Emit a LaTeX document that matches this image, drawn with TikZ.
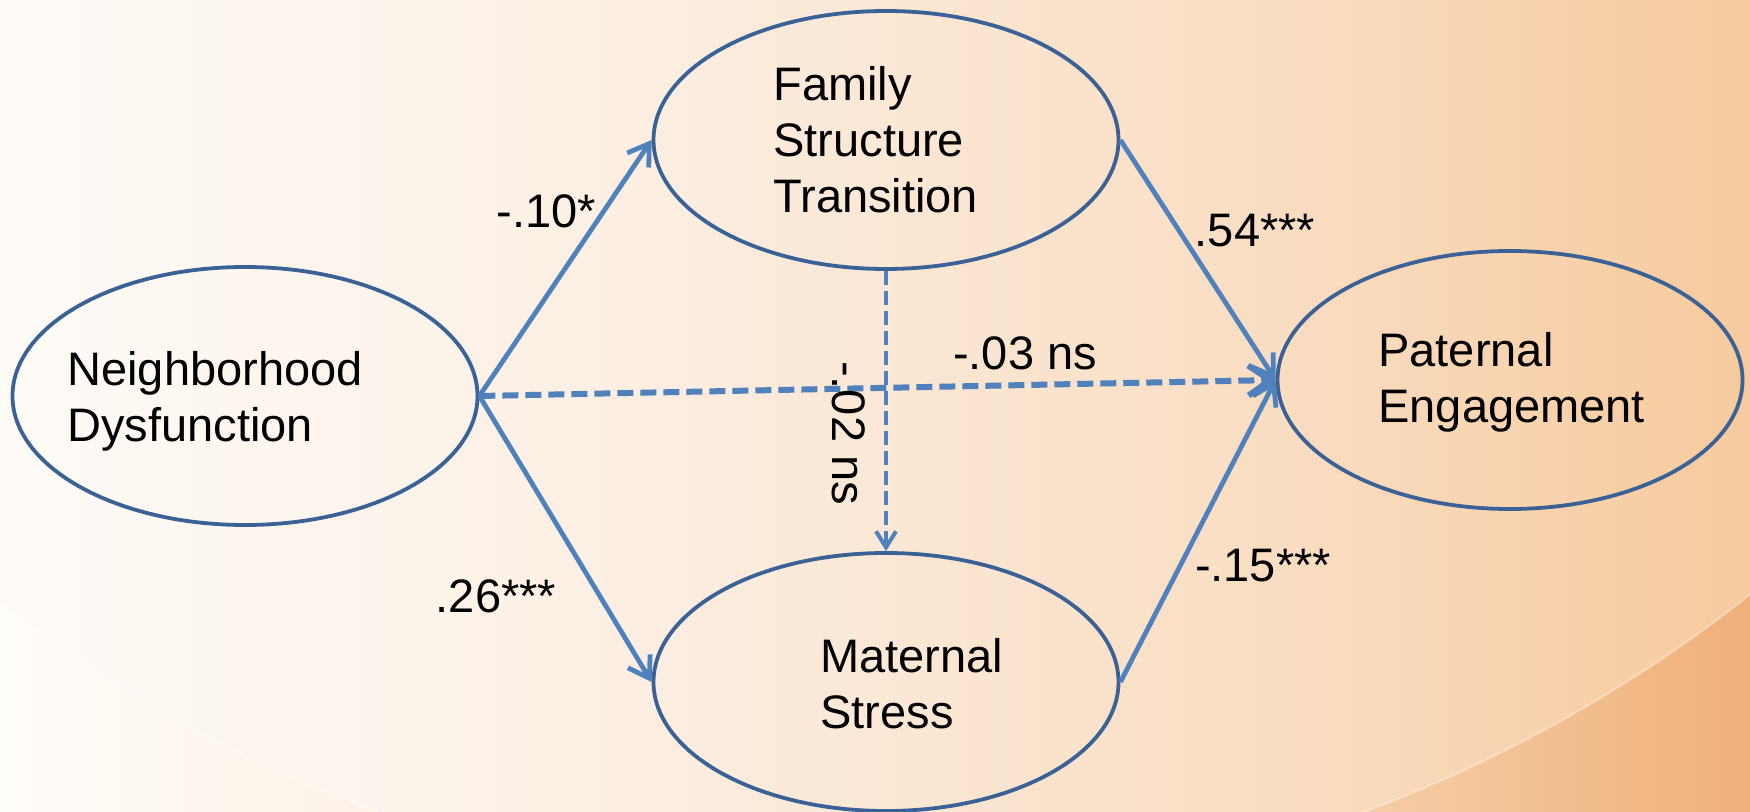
\documentclass[tikz,border=0pt]{standalone}
\usepackage{fontspec}
\setmainfont{Liberation Sans}
\usetikzlibrary{arrows.meta,shapes.geometric}
\definecolor{edgeblue}{HTML}{3B6296}
\definecolor{arrowblue}{HTML}{4F81BD}
\definecolor{ciA}{HTML}{FEFBF7}
\definecolor{ciB}{HTML}{FCF3EA}
\definecolor{ciC}{HTML}{FBE8D6}
\definecolor{ciD}{HTML}{F9DCC0}
\definecolor{ciE}{HTML}{F6CA9D}
\definecolor{coA}{HTML}{FFFDFA}
\definecolor{coB}{HTML}{F7D8B8}
\definecolor{coC}{HTML}{EFB079}
\pgfdeclarehorizontalshading{bgin}{100bp}{color(0bp)=(ciA); color(25bp)=(ciA); color(37.5bp)=(ciB); color(50bp)=(ciC); color(62.5bp)=(ciD); color(75bp)=(ciE); color(100bp)=(ciE)}
\pgfdeclarehorizontalshading{bgout}{100bp}{color(0bp)=(coA); color(25bp)=(coA); color(60bp)=(coB); color(75bp)=(coC); color(100bp)=(coC)}
\tikzset{
  ell/.style={ellipse, draw=edgeblue, line width=1.9pt, minimum width=232.5pt, minimum height=129pt, inner sep=0pt},
  txt/.style={font=\fontsize{23.5}{28}\selectfont, align=left, inner sep=0pt, anchor=west},
  lbl/.style={font=\fontsize{23.5}{28}\selectfont, inner sep=0pt},
  conn/.style={draw=arrowblue, line width=2.4pt, -{Straight Barb[length=10pt,width=13pt]}},
  hdash/.style={draw=arrowblue, line width=3pt, dash pattern=on 8pt off 3.5pt, -{Straight Barb[length=11pt,width=15pt]}},
  vdash/.style={draw=arrowblue, line width=2pt, dash pattern=on 7pt off 3pt, -{Straight Barb[length=8pt,width=10pt]}},
}
\begin{document}
\begin{tikzpicture}[x=0.5pt,y=-0.5pt]
\useasboundingbox (0,0) rectangle (1750,812);
\begin{scope}
  \clip (0,0) rectangle (1750,812);
  \shade[shading=bgout] (0,0) rectangle (1750,812);
  \begin{scope}
    \clip (870,-520) circle[radius=710pt];
    \shade[shading=bgin] (0,0) rectangle (1750,812);
  \end{scope}
  \draw[white, opacity=0.35, line width=1pt] (870,-520) circle[radius=710pt];
\end{scope}

\node[ell] (nd) at (245,396) {};
\node[ell] (fst) at (886,140) {};
\node[ell] (ms) at (886,682) {};
\node[ell] (pe) at (1510,380) {};

\node[txt] (ndt) at (67,401) {Neighborhood\\Dysfunction};
\node[txt] (fstt) at (773,140) {Family\\Structure\\Transition};
\node[txt] (mst) at (820,684) {Maternal\\Stress};
\node[txt] (pet) at (1378,382) {Paternal\\Engagement};

\draw[conn] (nd.east) -- (fst.west);
\draw[conn] (nd.east) -- (ms.west);
\draw[hdash] (nd.east) -- (pe.west);
\draw[conn] (fst.east) -- (pe.west);
\draw[conn] (ms.east) -- (pe.west);
\draw[vdash] (fst.south) -- (ms.north);

\node[lbl] (l1) at (546,211) {-.10*};
\node[lbl] (l2) at (1255,231) {.54***};
\node[lbl] (l3) at (1025,353) {-.03 ns};
\node[lbl, rotate=-90] (l4) at (849,433) {-.02 ns};
\node[lbl] (l5) at (496,596) {.26***};
\node[lbl] (l6) at (1263,566) {-.15***};
\end{tikzpicture}
\end{document}
